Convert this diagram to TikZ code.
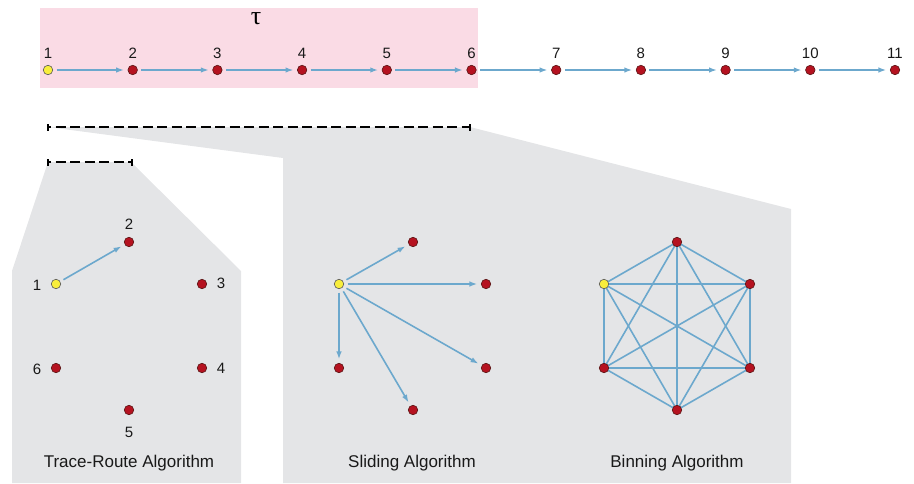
\documentclass[tikz,border=0pt]{standalone}
\usepackage{fontspec}
\setmainfont{Liberation Sans}
\newfontfamily\taufont{Liberation Serif}
\usetikzlibrary{arrows.meta}
\definecolor{pinkbg}{RGB}{250,219,229}
\definecolor{graybg}{RGB}{228,229,231}
\definecolor{edgeblue}{RGB}{108,168,205}
\definecolor{dotred}{RGB}{181,18,32}
\definecolor{dotyellow}{RGB}{248,238,60}
\definecolor{redrim}{RGB}{90,20,20}
\begin{document}
\begin{tikzpicture}[x=1pt,y=-1pt,
  reddot/.style={circle,fill=dotred,draw=redrim,line width=0.6pt,inner sep=0pt,minimum size=9.5pt},
  yeldot/.style={circle,fill=dotyellow,draw=black!65,line width=0.6pt,inner sep=0pt,minimum size=9.5pt},
  arr/.style={draw=edgeblue,line width=1.6pt,-{Latex[length=8pt,width=5.5pt]},shorten >=3.5pt,shorten <=3.5pt},
  bin/.style={draw=edgeblue,line width=1.6pt},
  lbl/.style={inner sep=0pt,font=\fontsize{15}{18}\selectfont,text=black!90},
  ttl/.style={inner sep=0pt,font=\fontsize{17}{20}\selectfont,text=black!90},
  brk/.style={draw=black,line width=1.1pt,dash pattern=on 10pt off 4.5pt,dash phase=7pt},
  tick/.style={draw=black,line width=1.1pt}]
\useasboundingbox (0,0) rectangle (914,483);
% backgrounds
\fill[pinkbg] (40,8) rectangle (478,88);
\fill[graybg] (48,127) -- (470,127) -- (791,209) -- (791,483) -- (283,483) -- (283,158) -- cycle;
\fill[graybg] (48,162) -- (131,162) -- (241,271) -- (241,483) -- (12,483) -- (12,271) -- cycle;
\node[inner sep=0pt,font=\taufont\fontsize{26}{28}\selectfont] (tau) at (256,19) {τ};
% top row
\node[yeldot] (t1) at (48,70) {};
\foreach \i in {2,...,11} \node[reddot] (t\i) at ({48+84.7*(\i-1)},70) {};
\foreach \i in {1,...,11} \node[lbl] (tl\i) at ({48+84.7*(\i-1)},53) {\i};
\foreach \i [count=\j from 2] in {1,...,10} \draw[arr] (t\i) -- (t\j);
% brackets
\coordinate (b1a) at (48,127); \coordinate (b1b) at (470,127);
\coordinate (b2a) at (48,162); \coordinate (b2b) at (132,162);
\draw[brk] (b1a) -- (b1b);
\draw[brk] (b2a) -- (b2b);
\foreach \c in {b1a,b1b,b2a,b2b} \draw[tick] ([yshift=-3.5pt]\c) -- ([yshift=3.5pt]\c);
% trace-route panel
\node[yeldot] (a1) at (56,284) {};
\node[reddot] (a2) at (129,242) {};
\node[reddot] (a3) at (202,284) {};
\node[reddot] (a4) at (202,368) {};
\node[reddot] (a5) at (129,410) {};
\node[reddot] (a6) at (56,368) {};
\node[lbl] (al1) at (37,285) {1};
\node[lbl] (al2) at (129,224) {2};
\node[lbl] (al3) at (221,283) {3};
\node[lbl] (al4) at (221,368) {4};
\node[lbl] (al5) at (129,432) {5};
\node[lbl] (al6) at (37,369) {6};
\draw[arr] (a1) -- (a2);
\node[ttl] (atitle) at (129,463) {Trace-Route Algorithm};
% sliding panel
\node[yeldot] (s1) at (339,284) {};
\node[reddot] (s2) at (413,242) {};
\node[reddot] (s3) at (486,284) {};
\node[reddot] (s4) at (486,368) {};
\node[reddot] (s5) at (413,410) {};
\node[reddot] (s6) at (339,368) {};
\foreach \k in {2,...,6} \draw[arr] (s1) -- (s\k);
\node[ttl] (stitle) at (412,463) {Sliding Algorithm};
% binning panel
\coordinate (p1) at (604,284);
\coordinate (p2) at (677,242);
\coordinate (p3) at (750,284);
\coordinate (p4) at (750,368);
\coordinate (p5) at (677,410);
\coordinate (p6) at (604,368);
\foreach \i in {1,...,5}{
  \foreach \j in {\i,...,6}{
    \ifnum\i<\j \draw[bin] (p\i) -- (p\j); \fi
  }
}
\node[yeldot] (n1) at (p1) {};
\foreach \k in {2,...,6} \node[reddot] (n\k) at (p\k) {};
\node[ttl] (btitle) at (677,463) {Binning Algorithm};
\end{tikzpicture}
\end{document}
